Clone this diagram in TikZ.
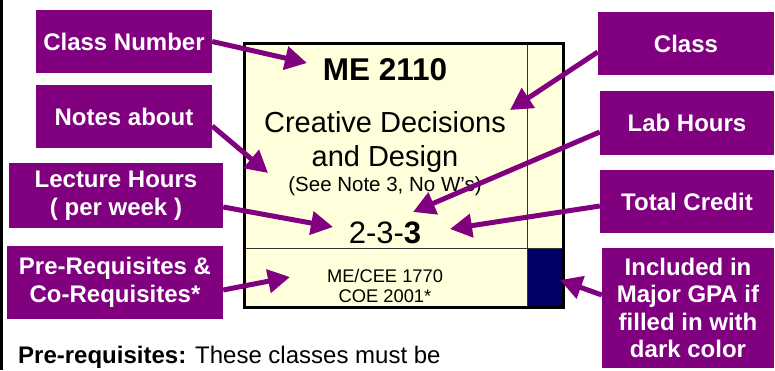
\documentclass[tikz,border=0pt]{standalone}
\usepackage{fontspec}
\setmainfont{Liberation Sans}
\usepackage{tikz}
\usetikzlibrary{arrows.meta}
\pgfdeclarelayer{boxlayer}
\pgfdeclarelayer{edgelayer}
\pgfdeclarelayer{nodelayer}
\pgfsetlayers{boxlayer,edgelayer,nodelayer,main}
\definecolor{tagpurple}{HTML}{800080}
\definecolor{cardcream}{HTML}{FFFFDC}
\definecolor{gpanavy}{HTML}{000066}
\tikzstyle{tag}=[rectangle,fill=tagpurple,text=white,inner sep=0pt,align=center,font=\fontsize{24}{27.5}\selectfont\bfseries]
\tikzstyle{pointer}=[-{Triangle[length=22pt,width=23pt]},draw=tagpurple,line width=5pt]
\tikzstyle{cardtext}=[anchor=base,inner sep=0pt]

\begin{document}
\begin{tikzpicture}[x=1pt,y=-1pt]
	\useasboundingbox (0,0) rectangle (775,370);
	\fill [black] (0,0) rectangle (3,370);
	\begin{pgfonlayer}{boxlayer}
		\fill [cardcream] (244,43) rectangle (563,307);
		\fill [gpanavy] (527,248) rectangle (563,307);
		\draw [black!80, line width=1pt] (527,43) -- (527,307);
		\draw [black!80, line width=1pt] (244,248) -- (563,248);
		\draw [black, line width=3pt] (244,43) rectangle (563,307);
		\node [style=cardtext, font=\fontsize{31.5}{31.5}\selectfont\bfseries] (20) at (385, 80) {ME 2110};
		\node [style=cardtext, font=\fontsize{29}{29}\selectfont] (21) at (385, 132) {Creative Decisions};
		\node [style=cardtext, font=\fontsize{29}{29}\selectfont] (22) at (385, 166) {and Design};
		\node [style=cardtext, font=\fontsize{20.5}{20.5}\selectfont] (23) at (385, 191) {(See Note 3, No W\char39 s)};
		\node [style=cardtext, font=\fontsize{31}{31}\selectfont] (24) at (385, 243) {2-3-\textbf{3}};
		\node [style=cardtext, font=\fontsize{18.3}{18.3}\selectfont] (25) at (385, 282) {ME/CEE 1770};
		\node [style=cardtext, font=\fontsize{18.3}{18.3}\selectfont] (26) at (385, 302) {COE 2001*};
	\end{pgfonlayer}
	\begin{pgfonlayer}{nodelayer}
		\node [style=tag, minimum width=176pt, minimum height=63pt] (0) at (124, 41.5) {Class Number};
		\node [style=tag, minimum width=176pt, minimum height=63pt] (1) at (124, 116.5) {Notes about};
		\node [style=tag, minimum width=214pt, minimum height=65pt] (2) at (116, 195.5) {Lecture Hours\\( per week )};
		\node [style=tag, minimum width=216pt, minimum height=73pt] (3) at (115, 282.5) {Pre-Requisites \&\\Co-Requisites*};
		\node [style=tag, minimum width=176pt, minimum height=63pt] (4) at (686, 43.5) {Class};
		\node [style=tag, minimum width=174pt, minimum height=64pt] (5) at (687, 123) {Lab Hours};
		\node [style=tag, minimum width=174pt, minimum height=63pt] (6) at (687, 201.5) {Total Credit};
		\node [style=tag, minimum width=172pt, minimum height=120pt] (7) at (688, 308) {Included in\\Major GPA if\\filled in with\\dark color};
		\node [anchor=base west, inner sep=0pt, font=\fontsize{24}{24}\selectfont] (30) at (18, 363) {\textbf{Pre-requisites:} These classes must be};
	\end{pgfonlayer}
	\coordinate (10) at (307, 63);
	\coordinate (11) at (268, 173);
	\coordinate (12) at (333, 227);
	\coordinate (13) at (290, 277);
	\coordinate (14) at (510, 110);
	\coordinate (15) at (413, 212);
	\coordinate (16) at (450, 229);
	\coordinate (17) at (560, 280);
	\begin{pgfonlayer}{edgelayer}
		\draw [style=pointer] (0.east) to (10);
		\draw [style=pointer] ([yshift=-9.5pt]1.east) to (11);
		\draw [style=pointer] ([yshift=-11.5pt]2.east) to (12);
		\draw [style=pointer] ([yshift=-7.5pt]3.east) to (13);
		\draw [style=pointer] ([yshift=-8.5pt]4.west) to (14);
		\draw [style=pointer] ([yshift=-9pt]5.west) to (15);
		\draw [style=pointer] ([yshift=-4.5pt]6.west) to (16);
		\draw [style=pointer] ([yshift=13pt]7.west) to (17);
	\end{pgfonlayer}
\end{tikzpicture}
\end{document}
